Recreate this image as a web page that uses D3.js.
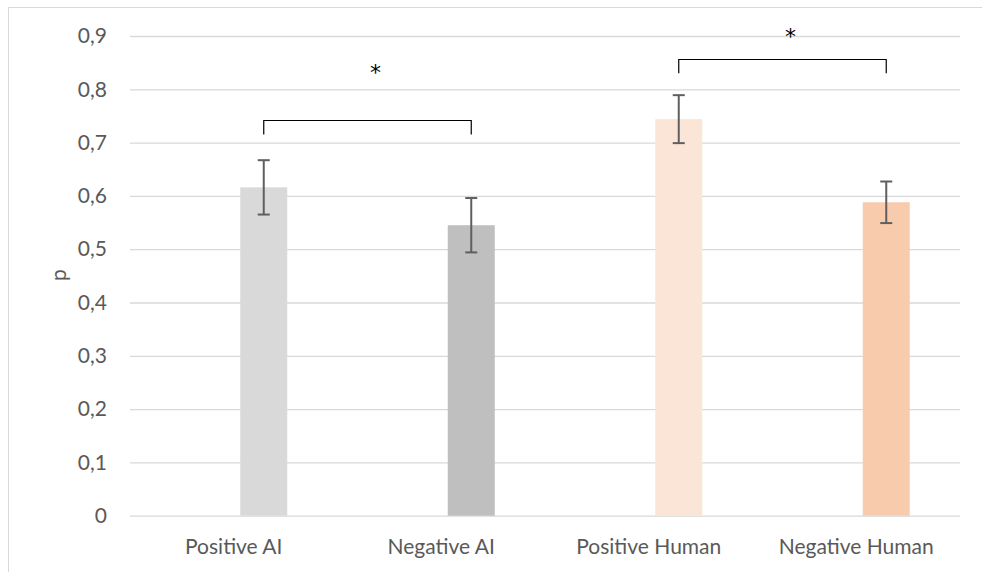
<!DOCTYPE html>
<html>
<head>
<meta charset="utf-8">
<script src="https://cdn.jsdelivr.net/npm/d3@7"></script>
<style>
  html, body { margin: 0; padding: 0; background: #fff; }
  svg { display: block; }
  text { font-family: Lato, "Open Sans", sans-serif; }
</style>
</head>
<body>
<svg id="chart" width="982" height="572"></svg>
<script>
// ---- data ----
const categories = ["Positive AI", "Negative AI", "Positive Human", "Negative Human"];
const values = [0.616, 0.545, 0.744, 0.588];
const errors = [0.051, 0.051, 0.045, 0.039];
const yTicks = [0, 0.1, 0.2, 0.3, 0.4, 0.5, 0.6, 0.7, 0.8, 0.9];
const tickLabels = ["0", "0,1", "0,2", "0,3", "0,4", "0,5", "0,6", "0,7", "0,8", "0,9"];
const pairA = [0, 2];          // first bar of each comparison
const pairB = [1, 3];          // second bar of each comparison
const bracketLevels = [0.742, 0.857];
const starLevels = [0.841, 0.909];
const starLabels = ["*", "*"];
const seriesKeys = ["blank", "value"];
const colors = ["#d9d9d9", "#bfbfbf", "#fbe5d6", "#f8cbad"];

// ---- layout ----
const svg = d3.select("#chart");
const plot = { left: 130, right: 960, top: 36, bottom: 515.7 };

svg.append("rect")
  .attr("x", 8.5).attr("y", 7.5).attr("width", 990).attr("height", 580)
  .attr("fill", "#fff").attr("stroke", "#d9d9d9").attr("stroke-width", 1);

const y = d3.scaleLinear().domain([0, 0.9]).range([plot.bottom, plot.top]);
const x = d3.scaleBand().domain(categories).range([plot.left, plot.right]).padding(0);
const xi = d3.scaleBand().domain(seriesKeys).range([0, x.bandwidth()])
  .paddingInner(0.2167).paddingOuter(0.8375);

// gridlines + y tick labels
const yAxis = d3.axisLeft(y).tickValues(yTicks)
  .tickSize(-(plot.right - plot.left))
  .tickPadding(23)
  .tickFormat((d, i) => tickLabels[i]);
const gy = svg.append("g").attr("transform", `translate(${plot.left},0)`).call(yAxis);
gy.select(".domain").remove();
gy.selectAll(".tick line").attr("stroke", "#d9d9d9").attr("stroke-width", 1.3);
gy.selectAll(".tick text")
  .attr("fill", "#595959").attr("font-size", 21);

// x axis labels
const xAxis = d3.axisBottom(x).tickSize(0).tickPadding(23);
const gx = svg.append("g").attr("transform", `translate(0,${plot.bottom})`).call(xAxis);
gx.select(".domain").remove();
gx.selectAll(".tick text").attr("fill", "#595959").attr("font-size", 21);

// bars
const cx = i => x(categories[i]) + xi("value") + xi.bandwidth() / 2;
svg.append("g").selectAll("rect").data(values).join("rect")
  .attr("x", (d, i) => x(categories[i]) + xi("value"))
  .attr("width", xi.bandwidth())
  .attr("y", d => y(d))
  .attr("height", d => y(0) - y(d))
  .attr("fill", (d, i) => colors[i]);

// error bars
const eg = svg.append("g").attr("stroke", "#5f5f5f").attr("stroke-width", 2);
values.forEach((v, i) => {
  const c = cx(i);
  eg.append("line").attr("x1", c).attr("x2", c).attr("y1", y(v + errors[i])).attr("y2", y(v - errors[i]));
  eg.append("line").attr("x1", c - 6).attr("x2", c + 6).attr("y1", y(v + errors[i])).attr("y2", y(v + errors[i]));
  eg.append("line").attr("x1", c - 6).attr("x2", c + 6).attr("y1", y(v - errors[i])).attr("y2", y(v - errors[i]));
});

// significance brackets
const bg = svg.append("g");
bracketLevels.forEach((lvl, k) => {
  const x1 = cx(pairA[k]), x2 = cx(pairB[k]);
  const top = Math.round(y(lvl)) + 0.5, bot = y(lvl - 0.027);
  bg.append("path")
    .attr("d", `M${x1},${bot}V${top}H${x2}V${bot}`)
    .attr("fill", "none").attr("stroke", "#000").attr("stroke-width", 1.2);
  bg.append("text")
    .attr("x", (x1 + x2) / 2 + 8).attr("y", y(starLevels[k]) + 12.5)
    .attr("text-anchor", "middle").attr("font-size", 22).attr("fill", "#000")
    .style("font-family", "'DejaVu Sans', sans-serif")
    .text(starLabels[k]);
});

// y label
svg.append("text")
  .attr("transform", `translate(57,275) rotate(-90)`)
  .attr("text-anchor", "middle").attr("dominant-baseline", "central")
  .attr("font-size", 21).attr("fill", "#595959")
  .text("p");
</script>
</body>
</html>
